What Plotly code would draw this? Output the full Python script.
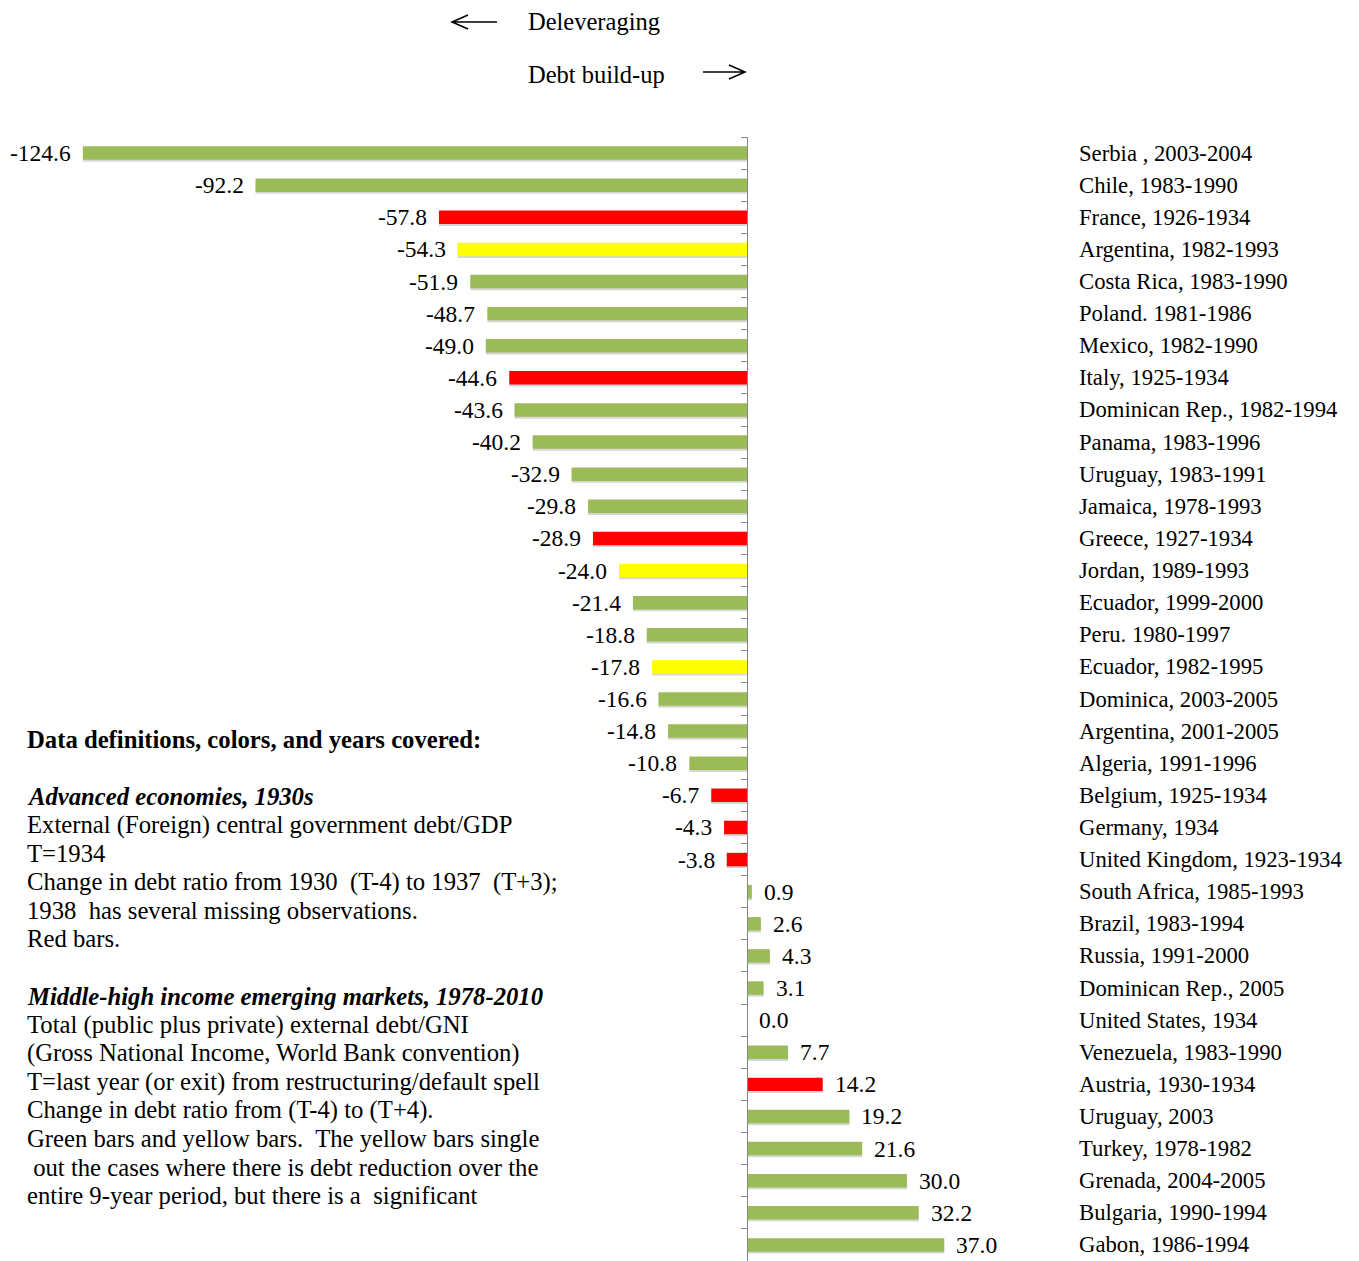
import plotly.graph_objects as go

# Change in external debt ratio, T-4 to T+4 (percent of GDP / GNI)
countries = ["Serbia , 2003-2004", "Chile, 1983-1990", "France, 1926-1934",
             "Argentina, 1982-1993", "Costa Rica, 1983-1990", "Poland. 1981-1986",
             "Mexico, 1982-1990", "Italy, 1925-1934", "Dominican Rep., 1982-1994",
             "Panama, 1983-1996", "Uruguay, 1983-1991", "Jamaica, 1978-1993",
             "Greece, 1927-1934", "Jordan, 1989-1993", "Ecuador, 1999-2000",
             "Peru. 1980-1997", "Ecuador, 1982-1995", "Dominica, 2003-2005",
             "Argentina, 2001-2005", "Algeria, 1991-1996", "Belgium, 1925-1934",
             "Germany, 1934", "United Kingdom, 1923-1934", "South Africa, 1985-1993",
             "Brazil, 1983-1994", "Russia, 1991-2000", "Dominican Rep., 2005",
             "United States, 1934", "Venezuela, 1983-1990", "Austria, 1930-1934",
             "Uruguay, 2003", "Turkey, 1978-1982", "Grenada, 2004-2005",
             "Bulgaria, 1990-1994", "Gabon, 1986-1994"]

changes = [-124.6, -92.2, -57.8, -54.3, -51.9, -48.7, -49.0, -44.6, -43.6, -40.2,
           -32.9, -29.8, -28.9, -24.0, -21.4, -18.8, -17.8, -16.6, -14.8, -10.8,
           -6.7, -4.3, -3.8, 0.9, 2.6, 4.3, 3.1, 0.0, 7.7, 14.2,
           19.2, 21.6, 30.0, 32.2, 37.0]

# A = advanced economies 1930s (red), E = emerging markets (green),
# Y = emerging, debt reduction over the whole period (yellow)
groups = ["E", "E", "A", "Y", "E", "E", "E", "A", "E", "E",
          "E", "E", "A", "Y", "E", "E", "Y", "E", "E", "E",
          "A", "A", "A", "E", "E", "E", "E", "A", "E", "A",
          "E", "E", "E", "E", "E"]

colors = {"A": "#FF0000", "E": "#9BBB59", "Y": "#FFFF00"}

note_lines = [
    "<b>Data definitions, colors, and years covered:</b>",
    "",
    "<b><i>Advanced economies, 1930s</i></b>",
    "External (Foreign) central government debt/GDP",
    "T=1934",
    "Change in debt ratio from 1930  (T-4) to 1937  (T+3);",
    "1938  has several missing observations.",
    "Red bars.",
    "",
    "<b><i>Middle-high income emerging markets, 1978-2010</i></b>",
    "Total (public plus private) external debt/GNI",
    "(Gross National Income, World Bank convention)",
    "T=last year (or exit) from restructuring/default spell",
    "Change in debt ratio from (T-4) to (T+4).",
    "Green bars and yellow bars.  The yellow bars single",
    " out the cases where there is debt reduction over the",
    "entire 9-year period, but there is a  significant",
]

# page body has an 8px margin, so the figure is drawn 8px in from the corner
OFF = 8
W, H = 1359 - OFF, 1261 - OFF
TOP = 137 - OFF
FONT = "Liberation Serif, Times New Roman, serif"


def px(x):
    return (x - OFF) / W


def py(y):
    return (H - (y - OFF)) / (H - TOP)


# faint drop shadow under each bar, then the bar itself
shadow = go.Bar(
    x=changes, y=countries, orientation="h", width=0.42, offset=-0.15,
    marker=dict(color="rgba(0,0,0,0.16)", line=dict(width=0)),
    hoverinfo="skip",
)
bars = go.Bar(
    x=changes, y=countries, orientation="h", width=0.42, offset=-0.21,
    marker=dict(color=[colors[g] for g in groups], line=dict(width=0)),
    hoverinfo="x+y",
)
fig = go.Figure([shadow, bars])

annotations = []
for c, v in zip(countries, changes):
    neg = v < 0
    annotations.append(dict(
        x=v, y=c, xref="x", yref="y", text=f"{v:.1f}", showarrow=False,
        xanchor="right" if neg else "left", xshift=-10 if neg else 10,
        font=dict(size=23.5, color="black", family=FONT)))
    annotations.append(dict(
        x=px(1077), y=c, xref="paper", yref="y", text=c, showarrow=False,
        xanchor="left", font=dict(size=22.7, color="black", family=FONT)))

annotations += [
    dict(x=px(526), y=py(21), xref="paper", yref="paper", text="Deleveraging",
         showarrow=False, xanchor="left", yanchor="middle",
         font=dict(size=24.5, color="black", family=FONT)),
    dict(x=px(526), y=py(74), xref="paper", yref="paper", text="Debt build-up",
         showarrow=False, xanchor="left", yanchor="middle",
         font=dict(size=24.5, color="black", family=FONT)),
]

for i, line in enumerate(note_lines):
    if not line:
        continue
    annotations.append(dict(
        x=px(25), y=py(739 + i * 28.56), xref="paper", yref="paper", text=line,
        showarrow=False, xanchor="left", yanchor="middle", align="left",
        font=dict(size=24.7, color="black", family=FONT)))


def arrow(x0, x1, y, tip):
    # tip: x of the arrow head
    back = tip + (16 if tip < (x0 + x1) / 2 else -16)
    return (f"M {px(x0)},{py(y)} L {px(x1)},{py(y)} "
            f"M {px(back)},{py(y - 7)} L {px(tip)},{py(y)} L {px(back)},{py(y + 7)}")


shapes = [
    dict(type="path", xref="paper", yref="paper", path=arrow(452, 497, 22, 452),
         line=dict(color="black", width=1.5)),
    dict(type="path", xref="paper", yref="paper", path=arrow(703, 745, 72, 745),
         line=dict(color="black", width=1.5)),
]

zero_pos = 747 - OFF
fig.update_layout(
    width=W, height=H,
    margin=dict(l=0, r=0, t=TOP, b=0),
    paper_bgcolor="white", plot_bgcolor="white",
    showlegend=False,
    barmode="overlay",
    xaxis=dict(range=[-zero_pos / 5.33, (W - zero_pos) / 5.33], visible=False,
               showgrid=False, zeroline=False),
    yaxis=dict(autorange="reversed", anchor="free", position=zero_pos / W,
               showline=True, linecolor="#868686", linewidth=1,
               ticks="outside", tickson="boundaries", ticklen=6,
               tickcolor="#868686", showticklabels=False, showgrid=False),
    annotations=annotations,
    shapes=shapes,
)

fig.write_html("out.html")
